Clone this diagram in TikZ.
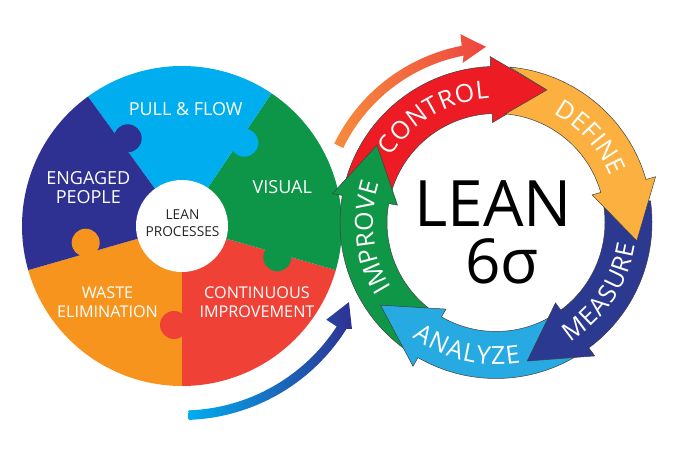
\documentclass[tikz,border=0pt]{standalone}
\usepackage{fontspec}
\usepackage{xcolor}
\setmainfont{Open Sans}
\usetikzlibrary{decorations.text}

\definecolor{wnavy}{HTML}{2E3192}
\definecolor{wblue}{HTML}{00AEEF}
\definecolor{wgreen}{HTML}{0D9648}
\definecolor{wred}{HTML}{EF4136}
\definecolor{worange}{HTML}{F7941E}
\definecolor{rred}{HTML}{ED1C24}
\definecolor{ramber}{HTML}{FBB040}
\definecolor{rnavy}{HTML}{2B3990}
\definecolor{rblue}{HTML}{27AAE1}
\definecolor{rgreen}{HTML}{0F9647}
\definecolor{ftail}{HTML}{F68B3C}
\definecolor{fhead}{HTML}{EE4540}
\definecolor{fmid}{HTML}{1C75BC}

\tikzset{
  wedgetext/.style={text=white,align=center,font=\fontsize{16.2}{18.7}\selectfont,inner sep=0pt},
  bigwedgetext/.style={wedgetext,font=\fontsize{18}{18.7}\selectfont},
  ringline/.style={draw=black!75,line width=0.5pt},
  ringtext/.style={decorate,decoration={text along path,text align=fit to path,text color=white,text={|\fontsize{25}{25}\selectfont|#1}}}
}

% #1 colour, #2 tail angle, #3 wing angle, #4 tip angle, #5 extra tail point
\newcommand{\ringarrow}[5]{%
  \draw[ringline,fill=#1] (#2:156) arc[start angle=#2,end angle=#3,radius=156]
    -- (#3:166) -- (#4:142) -- (#3:100) -- (#3:109)
    arc[start angle=#3,end angle=#2,radius=109] #5 -- cycle;
}

\begin{document}
\begin{tikzpicture}[x=1pt,y=1pt]
  \useasboundingbox (0,0) rectangle (678,452);

  % Puzzle wheel
  \begin{scope}[shift={(182,226)}]
    \foreach \col/\a/\b in {worange/196/270,wred/270/344,wgreen/344/416,wblue/416/486,wnavy/486/556}
    {
      \fill[\col] (0,0) -- (\a:160) arc[start angle=\a,end angle=\b,radius=160] -- cycle;
    }
  \end{scope}

  % Knobs
  \foreach \col/\x/\y in {wnavy/127.7/313.7,wblue/244.3/309.3,wgreen/277.3/194.7,worange/85.7/209.3,wred/174/127}
  {
    \fill[\col] (\x,\y) circle[radius=14];
  }
  \fill[white] (182,226) circle[radius=46];

  % Wheel labels
  \node[bigwedgetext] (pull) at (185.7,343) {PULL \& FLOW};
  \node[bigwedgetext] (people) at (88.3,264.2) {ENGAGED\\PEOPLE};
  \node[bigwedgetext] (visual) at (282.3,264.7) {VISUAL};
  \node[wedgetext] (waste) at (107.5,149.5) {WASTE\\ELIMINATION};
  \node[wedgetext] (continuous) at (257,149.5) {CONTINUOUS\\IMPROVEMENT};
  \node[wedgetext,text=black!85,font=\fontsize{13.7}{17}\selectfont] (processes) at (182.5,228.5) {LEAN\\PROCESSES};

  % Flow arrows
  \begin{scope}[shift={(496,229.5)}]
    \shade[left color=ftail,right color=fhead]
      (154:180) arc[start angle=154,end angle=101,radius=180] -- (100.7:191.7)
      -- (93.3:176) -- (101.8:163) -- (101:170)
      arc[start angle=101,end angle=154,radius=170] -- cycle;
  \end{scope}
  \begin{scope}[shift={(182,226)}]
    \shade[left color=wblue,middle color=fmid,right color=wnavy]
      (-88:184.5) arc[start angle=-88,end angle=-33,radius=184.5] -- (-33:172)
      -- (-24.5:183.5) -- (-31.2:198.7) -- (-32:194)
      arc[start angle=-32,end angle=-88,radius=194] -- cycle;
  \end{scope}

  % Ring
  \begin{scope}[shift={(496,229.5)}]
    \ringarrow{rred}{165}{92}{69}{}
    \ringarrow{rgreen}{234}{170}{147}{}
    \ringarrow{rblue}{-58}{-120}{-144.4}{}
    \ringarrow{rnavy}{8}{-53.5}{-77.3}{}
    \ringarrow{ramber}{85}{16}{-7.4}{-- (69:142)}

    \path[ringtext=CONTROL] (148:124) arc[start angle=148,end angle=93,radius=124];
    \path[ringtext=DEFINE] (62:123) arc[start angle=62,end angle=22,radius=123];
    \path[ringtext=MEASURE] (-58:141) arc[start angle=-58,end angle=-9,radius=141];
    \path[ringtext=ANALYZE] (-126:142) arc[start angle=-126,end angle=-80,radius=142];
    \path[ringtext=IMPROVE] (212:123) arc[start angle=212,end angle=164,radius=123];
  \end{scope}

  % Centre of the ring
  \node[font=\fontsize{64}{64}\selectfont,inner sep=0pt] (lean) at (493,248.5) {LEAN};
  \node[font=\fontsize{62}{62}\selectfont,inner sep=0pt] (sigma) at (502,191) {6σ};
\end{tikzpicture}
\end{document}
